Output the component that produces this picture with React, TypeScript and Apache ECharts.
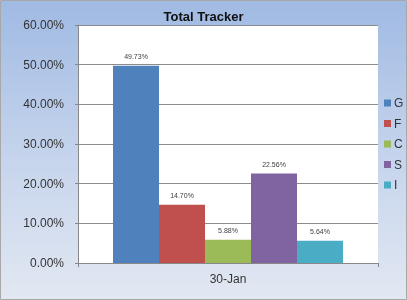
import React, { useEffect, useRef } from "react";
import * as echarts from "echarts";

const categories = ["30-Jan"];
const seriesNames = ["G", "F", "C", "S", "I"];
const seriesValues = [[0.4973], [0.147], [0.0588], [0.2256], [0.0564]];
const seriesColors = ["#4f81bd", "#c0504d", "#9bbb59", "#8064a2", "#4bacc6"];
const yTicks = { min: 0, max: 0.6, interval: 0.1 };

const pct = (v: number) => (v * 100).toFixed(2) + "%";

export default function App() {
  const ref = useRef<HTMLDivElement>(null);
  useEffect(() => {
    if (!ref.current) return;
    const chart = echarts.init(ref.current, undefined, { renderer: "svg" });
    const font = "Liberation Sans";
    chart.setOption({
      animation: false,
      graphic: [
        {
          type: "rect",
          z: -10,
          silent: true,
          shape: { x: 0.5, y: 0.5, width: 406, height: 299 },
          style: {
            fill: new echarts.graphic.LinearGradient(0, 0, 0, 1, [
              { offset: 0, color: "#a0bae3" },
              { offset: 0.5, color: "#c4d3ec" },
              { offset: 1, color: "#e2e8f2" },
            ]),
            stroke: "#a8a8a8",
            lineWidth: 1,
          },
        },
      ],
      title: {
        text: "Total Tracker",
        left: "center",
        top: 10,
        padding: 0,
        textStyle: { fontFamily: font, fontSize: 13, fontWeight: "bold", color: "#111" },
      },
      legend: {
        orient: "vertical",
        left: 384,
        top: 97,
        padding: 0,
        itemWidth: 7,
        itemHeight: 7,
        itemGap: 8.5,
        icon: "rect",
        textStyle: { fontFamily: font, fontSize: 12, color: "#333", padding: [0, 0, 0, -2] },
        data: seriesNames,
      },
      grid: {
        left: 78,
        right: 29,
        top: 25,
        bottom: 37,
        show: true,
        backgroundColor: "#ffffff",
        borderWidth: 0,
      },
      xAxis: {
        type: "category",
        data: categories,
        axisLine: { lineStyle: { color: "#888" } },
        axisTick: { show: true, length: 4, lineStyle: { color: "#888" } },
        axisLabel: { fontFamily: font, fontSize: 12, color: "#333", margin: 10 },
      },
      yAxis: {
        type: "value",
        min: yTicks.min,
        max: yTicks.max,
        interval: yTicks.interval,
        axisLine: { show: true, lineStyle: { color: "#888" } },
        axisTick: { show: true, length: 3, lineStyle: { color: "#888" } },
        splitLine: { lineStyle: { color: "#8c8c8c", width: 1 } },
        axisLabel: {
          fontFamily: font,
          fontSize: 12,
          color: "#333",
          margin: 14,
          formatter: (v: number) => pct(v),
        },
      },
      series: seriesNames.map((name, i) => ({
        name,
        type: "bar",
        data: seriesValues[i],
        barWidth: 46,
        barGap: "0%",
        itemStyle: { color: seriesColors[i] },
        label: {
          show: true,
          position: "top",
          distance: 6,
          fontFamily: font,
          fontSize: 7,
          color: "#404040",
          formatter: (p: any) => pct(p.value),
        },
      })),
    });
    return () => chart.dispose();
  }, []);
  return (
    <div
      ref={ref}
      style={{ position: "fixed", left: 0, top: 0, width: 407, height: 300 }}
    />
  );
}
